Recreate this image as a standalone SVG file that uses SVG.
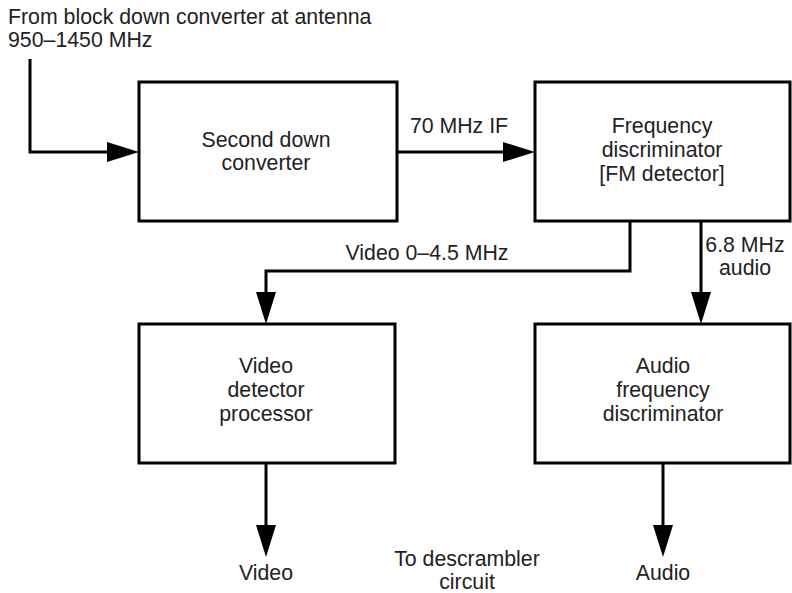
<svg xmlns="http://www.w3.org/2000/svg" width="792" height="593" viewBox="0 0 792 593">
<defs>
<style>
.box{fill:#fff;stroke:#000;stroke-width:3}
.wire{fill:none;stroke:#000;stroke-width:3}
text{font-family:"Liberation Sans",Arial,sans-serif;font-size:21.3px;fill:#222}
.c{text-anchor:middle}
</style>
<marker id="ah" markerUnits="userSpaceOnUse" markerWidth="34" markerHeight="22" refX="0" refY="10" orient="auto" viewBox="0 0 34 22">
<path d="M0,0 L32,10 L0,20 z" fill="#000"/>
</marker>
</defs>
<g id="connectors">
<path class="wire" d="M30,59 V152 H107" marker-end="url(#ah)"/>
<path class="wire" d="M397,152 H503" marker-end="url(#ah)"/>
<path class="wire" d="M630,222 V271 H266 V292" marker-end="url(#ah)"/>
<path class="wire" d="M701,222 V292" marker-end="url(#ah)"/>
<path class="wire" d="M266,463 V525" marker-end="url(#ah)"/>
<path class="wire" d="M663,463 V525" marker-end="url(#ah)"/>
<text x="459" y="133" class="c">70 MHz IF</text>
<text x="427" y="260" class="c">Video 0–4.5 MHz</text>
<text x="745" y="252" class="c">6.8 MHz</text>
<text x="745" y="275" class="c">audio</text>
</g>
<g id="input-label">
<text x="8" y="24">From block down converter at antenna</text>
<text x="8" y="47">950–1450 MHz</text>
</g>
<g id="second-down-converter">
<rect class="box" x="139" y="82" width="258" height="139"/>
<text x="266" y="147" class="c">Second down</text>
<text x="266" y="170" class="c">converter</text>
</g>
<g id="frequency-discriminator">
<rect class="box" x="535" y="82" width="255" height="139"/>
<text x="662" y="133" class="c">Frequency</text>
<text x="662" y="157" class="c">discriminator</text>
<text x="662" y="181" class="c">[FM detector]</text>
</g>
<g id="video-detector">
<rect class="box" x="139" y="324" width="256" height="139"/>
<text x="266" y="373" class="c">Video</text>
<text x="266" y="397" class="c">detector</text>
<text x="266" y="421" class="c">processor</text>
</g>
<g id="audio-discriminator">
<rect class="box" x="535" y="324" width="255" height="139"/>
<text x="663" y="373" class="c">Audio</text>
<text x="663" y="397" class="c">frequency</text>
<text x="663" y="421" class="c">discriminator</text>
</g>
<g id="video-out">
<text x="266" y="580" class="c">Video</text>
</g>
<g id="descrambler">
<text x="467" y="566" class="c">To descrambler</text>
<text x="467" y="589" class="c">circuit</text>
</g>
<g id="audio-out">
<text x="663" y="580" class="c">Audio</text>
</g>
</svg>
